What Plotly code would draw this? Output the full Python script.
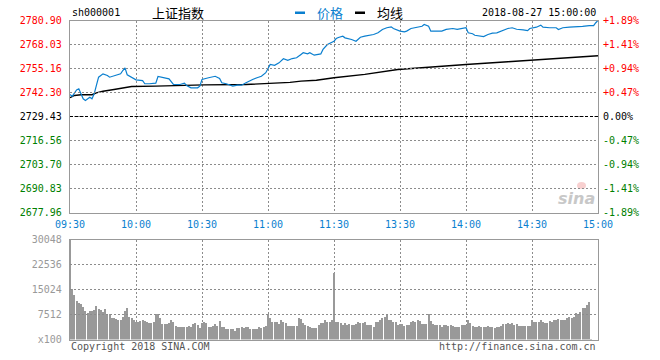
import plotly.graph_objects as go

# ---------------- data ----------------
PRECLOSE = 2729.43
PRICE_TICKS = ["2677.96", "2690.83", "2703.70", "2716.56", "2729.43",
               "2742.30", "2755.16", "2768.03", "2780.90"]
PCT_TICKS = ["-1.89%", "-1.41%", "-0.94%", "-0.47%", "0.00%",
             "+0.47%", "+0.94%", "+1.41%", "+1.89%"]
TIME_LABELS = ["09:30", "10:00", "10:30", "11:00", "11:30",
               "13:30", "14:00", "14:30", "15:00"]
TIME_TICKS = [0, 30, 60, 90, 120, 150, 180, 210, 240]
VOL_TICKS = [0, 7512, 15024, 22536, 30048]
VOL_LABELS = ["x100", "7512", "15024", "22536", "30048"]

PRICE_MIN = [0, 1, 3, 4, 5, 6, 7, 9, 10, 11, 12, 13, 15, 17, 18, 21, 23, 24, 25, 26,
             28, 30, 33, 34, 36, 39, 40, 42, 45, 47, 50, 52, 53, 55, 58, 59, 60, 63,
             66, 68, 69, 71, 74, 76, 78, 80, 82, 83, 85, 87, 89, 90, 91, 93, 95, 97,
             99, 101, 103, 105, 106, 108, 109, 111, 114, 115, 117, 120, 121, 122, 124,
             125, 127, 128, 130, 131, 132, 134, 137, 138, 140, 142, 144, 146, 147, 149,
             150, 152, 153, 155, 158, 160, 161, 163, 164, 166, 169, 171, 174, 176, 178,
             180, 181, 183, 184, 186, 188, 190, 192, 194, 197, 199, 201, 203, 206, 208,
             209, 212, 214, 215, 218, 221, 222, 224, 227, 230, 233, 236, 238, 239, 240]
PRICE = [2741.2, 2740.2, 2743.7, 2744.3, 2741.6, 2738.9, 2738.0, 2739.8, 2738.9, 2741.6,
         2746.1, 2750.5, 2752.3, 2751.4, 2750.5, 2751.4, 2752.3, 2754.1, 2755.5, 2751.8,
         2750.5, 2749.1, 2748.7, 2747.0, 2747.0, 2747.3, 2750.9, 2750.5, 2749.6, 2746.6,
         2746.6, 2747.3, 2746.1, 2744.8, 2744.8, 2745.7, 2749.3, 2750.2, 2751.0, 2749.8,
         2747.5, 2747.0, 2745.7, 2746.2, 2746.2, 2747.5, 2748.9, 2749.3, 2750.2, 2751.0,
         2752.9, 2755.5, 2757.3, 2756.9, 2758.2, 2760.4, 2759.5, 2760.5, 2760.9, 2762.7,
         2763.6, 2763.0, 2763.6, 2762.3, 2763.0, 2765.4, 2768.0, 2769.8, 2771.2, 2771.8,
         2772.5, 2771.6, 2771.2, 2770.7, 2769.8, 2770.7, 2771.9, 2772.5, 2773.0, 2773.4,
         2774.3, 2776.1, 2777.0, 2777.5, 2776.6, 2775.5, 2775.2, 2774.8, 2775.2, 2776.6,
         2777.5, 2777.8, 2778.8, 2777.8, 2775.2, 2775.2, 2775.2, 2776.1, 2776.6, 2776.1,
         2776.6, 2777.1, 2774.3, 2773.8, 2773.0, 2772.7, 2772.3, 2773.4, 2774.1, 2774.3,
         2775.9, 2776.6, 2777.0, 2776.2, 2775.9, 2775.5, 2776.6, 2777.3, 2778.4, 2777.3,
         2777.0, 2777.0, 2776.1, 2777.0, 2777.3, 2777.3, 2777.7, 2778.1, 2778.1, 2779.7,
         2780.9]

AVG_MIN = [0, 2, 5, 10, 12, 15, 20, 24, 28, 39, 48, 61, 80, 91, 100, 105, 112, 120,
           134, 149, 164, 180, 199, 219, 240]
AVG = [2739.5, 2740.7, 2741.1, 2741.1, 2742.1, 2743.0, 2743.9, 2744.6, 2745.5, 2745.7,
       2746.1, 2746.4, 2746.6, 2747.0, 2747.7, 2748.4, 2748.9, 2750.2, 2752.0, 2754.6,
       2756.1, 2757.3, 2758.8, 2760.4, 2762.0]

VOLUME = [30048, 15300, 13500, 11800, 11200, 10800, 10000, 8800, 8200, 8700,
          8800, 9000, 10200, 9400, 9000, 8500, 9300, 7800, 7800, 6500,
          6600, 6300, 6000, 6000, 6900, 8700, 9600, 6800, 6500, 6000,
          5500, 5500, 5800, 6000, 5800, 5500, 5000, 5000, 5500, 7800,
          7700, 6700, 4700, 4700, 4800, 5000, 6000, 5500, 4300, 4000,
          4000, 4000, 4000, 4000, 4200, 4000, 4700, 5000, 4500, 3500,
          5000, 5500, 5000, 4000, 3800, 4300, 4700, 4200, 5700, 3800,
          4000, 3200, 3200, 3200, 3300, 2800, 3500, 3500, 3800, 3500,
          3800, 3800, 3300, 3300, 3300, 3300, 3800, 3500, 3800, 4200,
          7700, 6700, 5500, 5500, 5500, 4800, 6000, 5500, 5000, 4200,
          4200, 4200, 4200, 4200, 6500, 6200, 5000, 4400, 4200, 4000,
          3700, 3500, 3500, 4500, 5200, 5200, 6000, 5500, 5500, 6000,
          20200, 5500, 5500, 5200, 4500, 5000, 4500, 4800, 4500, 4500,
          4800, 5400, 5200, 5000, 5400, 4500, 4500, 4500, 4000, 5300,
          5300, 6000, 6600, 7000, 7500, 6000, 6000, 5500, 5500, 4500,
          4800, 4700, 4300, 4500, 4500, 5500, 5800, 5500, 6000, 5800,
          4800, 4800, 4800, 7800, 5800, 4800, 4500, 4500, 4500, 3800,
          4500, 4500, 4200, 4400, 4200, 4000, 3800, 4000, 4400, 4500,
          4500, 6000, 5200, 4200, 4000, 4000, 4200, 4000, 4000, 4000,
          4200, 4000, 3800, 3700, 3800, 4000, 4200, 4800, 4800, 5000,
          4800, 5000, 4500, 4800, 4200, 4200, 4200, 4200, 4200, 4200,
          6000, 5400, 5400, 5400, 6000, 5400, 5200, 5200, 5800, 5400,
          6000, 6000, 6200, 6000, 6000, 6000, 6500, 6800, 6500, 7000,
          8000, 7800, 8500, 9500, 9700, 10500, 11500, 300, 0, 0, 0]

# ---------------- style ----------------
BLUE = "#0a7fcf"
RED = "#ff0000"
GREEN = "#008000"
GRID = "#8c8c8c"
FRAME = "#999999"
MONO = "DejaVu Sans Mono"
CJK = "Noto Sans CJK SC"

W, H = 660, 360
L, R, T, B = 70, 62, 20, 20
PW, PH = W - L - R, H - T - B


def px(x):
    return (x - L) / PW


def py(y):
    return (H - B - y) / PH


def colored(labels, ref_index):
    out = []
    for i, s in enumerate(labels):
        c = "#000000" if i == ref_index else (RED if i > ref_index else GREEN)
        out.append(f'<span style="color:{c}">{s}</span>')
    return out


price_vals = [float(s) for s in PRICE_TICKS]
ref_i = PRICE_TICKS.index(f"{PRECLOSE:.2f}")
minutes = list(range(len(VOLUME)))

fig = go.Figure()
fig.add_trace(go.Bar(x=minutes, y=VOLUME, xaxis="x2", yaxis="y3",
                     marker=dict(color="#999999", line=dict(width=0)), width=0.45,
                     hoverinfo="skip"))
fig.add_trace(go.Scatter(x=[TIME_TICKS[0], TIME_TICKS[-1]], y=[PRECLOSE, PRECLOSE],
                         yaxis="y2", mode="lines",
                         line=dict(color="#000000", width=1, dash="3px,2px")))
fig.add_trace(go.Scatter(x=AVG_MIN, y=AVG, mode="lines",
                         line=dict(color="#000000", width=1.4)))
fig.add_trace(go.Scatter(x=PRICE_MIN, y=PRICE, mode="lines",
                         line=dict(color=BLUE, width=1.2)))

axis_common = dict(showline=True, mirror=True, linecolor=FRAME, linewidth=1.2,
                   showgrid=True, gridcolor=GRID, griddash="2px,2px", gridwidth=1,
                   zeroline=False, ticks="", fixedrange=True, layer="above traces")

main_dom = [py(212.5), py(20.5)]
vol_dom = [py(339.5), py(239.5)]

fig.update_layout(
    width=W, height=H, margin=dict(l=L, r=R, t=T, b=B),
    paper_bgcolor="white", plot_bgcolor="white", showlegend=False,
    bargap=0,
    xaxis=dict(domain=[0, 1], anchor="y", range=[TIME_TICKS[0], TIME_TICKS[-1]],
               tickvals=TIME_TICKS, ticktext=TIME_LABELS,
               tickfont=dict(family=MONO, size=10, color=BLUE),
               ticklabelstandoff=2, **axis_common),
    yaxis=dict(domain=main_dom, anchor="x",
               range=[price_vals[0], price_vals[-1]],
               tickvals=price_vals, ticktext=colored(PRICE_TICKS, ref_i),
               tickfont=dict(family=MONO, size=10), ticklabelstandoff=5,
               **axis_common),
    yaxis2=dict(overlaying="y", side="right", anchor="x",
                range=[price_vals[0], price_vals[-1]],
                tickvals=price_vals, ticktext=colored(PCT_TICKS, ref_i),
                tickfont=dict(family=MONO, size=10), ticklabelstandoff=4,
                showgrid=False, zeroline=False, showline=False, ticks="",
                fixedrange=True),
    xaxis2=dict(domain=[0, 1], anchor="y3", range=[TIME_TICKS[0], TIME_TICKS[-1]],
                tickvals=TIME_TICKS, showticklabels=False, **axis_common),
    yaxis3=dict(domain=vol_dom, anchor="x2", range=[VOL_TICKS[0], VOL_TICKS[-1]],
                tickvals=VOL_TICKS, ticktext=VOL_LABELS,
                tickfont=dict(family=MONO, size=10, color="#999999"),
                ticklabelstandoff=5, **axis_common),
)

ann = [
    dict(text="sh000001", x=px(70), y=py(13), xanchor="left",
         font=dict(family=MONO, size=10, color="#000")),
    dict(text="上证指数", x=px(150), y=py(12), xanchor="left",
         font=dict(family=CJK, size=13, color="#000")),
    dict(text="价格", x=px(315), y=py(12), xanchor="left",
         font=dict(family=CJK, size=13, color=BLUE)),
    dict(text="均线", x=px(375), y=py(12), xanchor="left",
         font=dict(family=CJK, size=13, color="#000")),
    dict(text="2018-08-27 15:00:00", x=px(598), y=py(13), xanchor="right",
         font=dict(family=MONO, size=10, color="#000")),
    dict(text="Copyright 2018 SINA.COM", x=px(69), y=py(346), xanchor="left",
         font=dict(family=MONO, size=10, color="#555")),
    dict(text="http://finance.sina.com.cn", x=px(598), y=py(346), xanchor="right",
         font=dict(family=MONO, size=10, color="#555")),
    dict(text="<b><i>sina</i></b>", x=px(597), y=py(198), xanchor="right",
         font=dict(family="DejaVu Sans", size=16, color="#c8c8c8")),
]
for a in ann:
    a.update(xref="paper", yref="paper", showarrow=False, yanchor="middle")
fig.update_layout(annotations=ann)

shapes = [
    dict(type="rect", xref="paper", yref="paper", x0=px(295), x1=px(305),
         y0=py(11.5), y1=py(14), fillcolor=BLUE, line=dict(width=0)),
    dict(type="rect", xref="paper", yref="paper", x0=px(355), x1=px(365),
         y0=py(11.5), y1=py(14), fillcolor="#000", line=dict(width=0)),
    dict(type="circle", xref="paper", yref="paper", x0=px(577), x1=px(586),
         y0=py(182), y1=py(189), fillcolor="rgba(240,150,150,0.45)", line=dict(width=0)),
]
# horizontal dotted grid lines drawn at the axis tick values
for v in price_vals[1:-1]:
    if v == PRECLOSE:
        continue
    shapes.append(dict(type="line", xref="paper", yref="y", x0=0, x1=1, y0=v, y1=v,
                       line=dict(color=GRID, width=1, dash="2px,2px"), layer="above"))
for v in VOL_TICKS[1:-1]:
    shapes.append(dict(type="line", xref="paper", yref="y3", x0=0, x1=1, y0=v, y1=v,
                       line=dict(color=GRID, width=1, dash="2px,2px"), layer="above"))
fig.update_layout(shapes=shapes)

fig.write_html("out.html")
